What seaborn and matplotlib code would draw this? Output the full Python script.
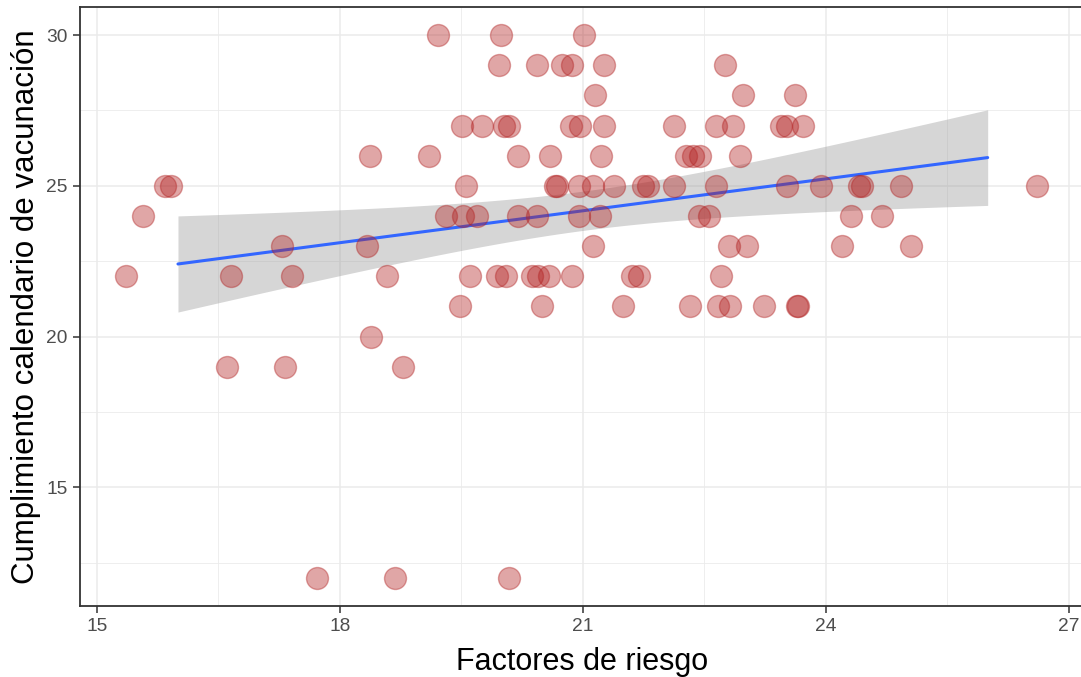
import numpy as np
import pandas as pd
import matplotlib
matplotlib.use("Agg")
import matplotlib.pyplot as plt
import seaborn as sns

# Points (x is jittered in the original)
y_levels = [30, 29, 28, 27, 26, 25, 24, 23, 22, 21, 20, 19, 12]
x_by_level = [
    [19.21, 19.99, 21.01],
    [19.96, 20.43, 20.74, 20.87, 21.26, 22.76],
    [21.15, 22.98, 23.62],
    [19.51, 19.75, 20.03, 20.09, 20.86, 20.97, 21.26, 22.12, 22.65, 22.85,
     23.45, 23.52, 23.72],
    [18.37, 19.10, 20.20, 20.60, 21.23, 22.27, 22.36, 22.45, 22.94],
    [15.84, 15.91, 19.56, 20.66, 20.68, 20.95, 21.13, 21.39, 21.74, 21.81,
     22.13, 22.64, 23.52, 23.94, 24.41, 24.45, 24.93, 26.61],
    [15.57, 19.31, 19.52, 19.69, 20.20, 20.43, 20.95, 21.21, 22.44, 22.56,
     24.31, 24.69],
    [17.29, 18.34, 21.12, 22.80, 23.03, 24.20, 25.05],
    [15.36, 16.65, 17.41, 18.58, 19.61, 19.94, 20.05, 20.37, 20.45, 20.58,
     20.87, 21.61, 21.69, 22.71],
    [19.48, 20.50, 21.50, 22.32, 22.67, 22.82, 23.24, 23.65, 23.66],
    [18.39],
    [16.60, 17.32, 18.78],
    [17.72, 18.68, 20.09],
]
fit_range = [16, 26]

x_ticks = [15, 18, 21, 24, 27]
y_ticks = [15, 20, 25, 30]

df = pd.DataFrame(
    [(x, yl) for yl, xs in zip(y_levels, x_by_level) for x in xs],
    columns=["riesgo", "vacunacion"],
)

sns.set_style("white")
plt.rcParams["font.family"] = ["Liberation Sans", "DejaVu Sans"]

fig = plt.figure(figsize=(10.81, 6.77), dpi=100)
ax = fig.add_axes([0.074, 0.1049, 0.9288, 0.8848])

# Grid (theme_bw look)
for v in np.arange(13.5, 28.5, 1.5):
    ax.axvline(v, color="#EBEBEB", lw=1.1 if v in x_ticks else 0.6, zorder=0)
for v in np.arange(12.5, 31, 2.5):
    ax.axhline(v, color="#EBEBEB", lw=1.1 if v in y_ticks else 0.6, zorder=0)

# Linear fit with 95% CI
b1, b0 = np.polyfit(df["riesgo"], df["vacunacion"], 1)
n = len(df)
resid = df["vacunacion"] - (b0 + b1 * df["riesgo"])
s = np.sqrt((resid ** 2).sum() / (n - 2))
xm = df["riesgo"].mean()
sxx = ((df["riesgo"] - xm) ** 2).sum()
grid = np.linspace(fit_range[0], fit_range[1], 80)
pred = b0 + b1 * grid
se = s * np.sqrt(1 / n + (grid - xm) ** 2 / sxx)
tcrit = 1.984
ax.fill_between(grid, pred - tcrit * se, pred + tcrit * se,
                color="#999999", alpha=0.4, lw=0, zorder=2)
ax.plot(grid, pred, color="#3366FF", lw=2.2, zorder=3)

sns.scatterplot(data=df, x="riesgo", y="vacunacion", ax=ax, s=250,
                color="#B22222", alpha=0.4, edgecolor="#B22222",
                linewidth=1.0, zorder=4)

ax.set_xlim(14.79, 27.19)
ax.set_ylim(11.07, 30.93)
ax.set_xticks(x_ticks)
ax.set_yticks(y_ticks)
ax.tick_params(axis="both", length=5, width=1.1, color="#333333",
               labelcolor="#4D4D4D", labelsize=13.8, pad=4, direction="out",
               bottom=True, left=True)
for sp in ax.spines.values():
    sp.set_color("#333333")
    sp.set_linewidth(1.3)

ax.set_xlabel("Factores de riesgo", fontsize=22, color="black", labelpad=8)
ax.set_ylabel("Cumplimiento calendario de vacunación", fontsize=22.5,
              color="black", labelpad=4)

fig.savefig("out.png", dpi=100)
